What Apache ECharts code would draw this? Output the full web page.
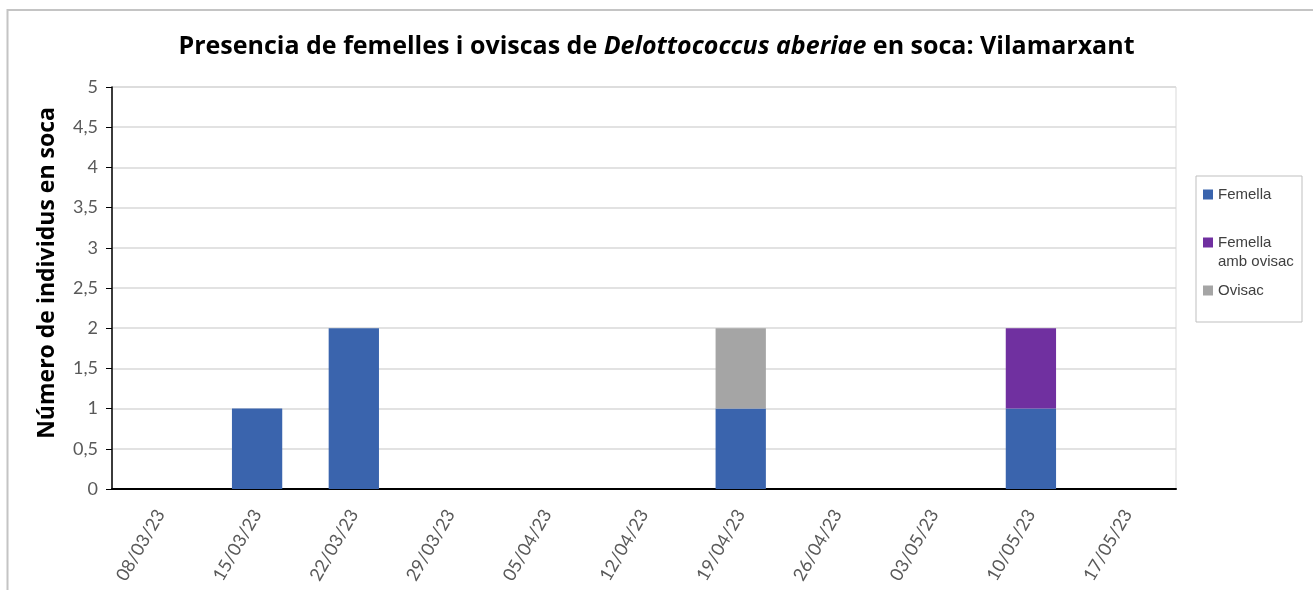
<!DOCTYPE html>
<html>
<head>
<meta charset="utf-8">
<script src="https://cdn.jsdelivr.net/npm/echarts@6/dist/echarts.min.js"></script>
<style>
  html, body { margin: 0; padding: 0; background: #fff; }
  #chart { width: 1313px; height: 590px; }
</style>
</head>
<body>
<div id="chart"></div>
<script>
var categories = ['08/03/23', '15/03/23', '22/03/23', '29/03/23', '05/04/23', '12/04/23',
	'19/04/23', '26/04/23', '03/05/23', '10/05/23', '17/05/23'];
var femella = [0, 1, 2, 0, 0, 0, 1, 0, 0, 1, 0];
var femellaOvisac = [0, 0, 0, 0, 0, 0, 0, 0, 0, 1, 0];
var ovisac = [0, 0, 0, 0, 0, 0, 1, 0, 0, 0, 0];
var seriesNames = ['Femella', 'Femella amb ovisac', 'Ovisac'];
var colors = ['#3a64ad', '#7030a0', '#a5a5a5'];

var legendText = {
	fontFamily: 'Liberation Sans',
	fontSize: 15,
	color: '#404040',
	lineHeight: 19
};

function legendItem(name, top, fmt) {
	return {
		left: 1203, top: top, padding: 0,
		itemWidth: 10, itemHeight: 10, icon: 'rect',
		data: [name], textStyle: legendText,
		formatter: fmt
	};
}

var option = {
	animation: false,
	color: colors,
	title: {
		left: 'center',
		top: 29,
		text: '{n|Presencia de femelles i oviscas de }{i|Delottococcus aberiae}{n| en soca: Vilamarxant}',
		textStyle: {
			rich: {
				n: { fontFamily: 'Open Sans', fontWeight: 'bold', fontSize: 25, color: '#000' },
				i: { fontFamily: 'Open Sans', fontWeight: 'bold', fontStyle: 'italic', fontSize: 25, color: '#000' }
			}
		}
	},
	graphic: [{
		type: 'rect',
		shape: { x: 7.5, y: 10, width: 1330, height: 620 },
		style: { fill: 'none', stroke: '#c4c4c4', lineWidth: 2 },
		silent: true
	}, {
		type: 'rect',
		shape: { x: 1196, y: 176, width: 106, height: 146 },
		style: { fill: 'none', stroke: '#bfbfbf', lineWidth: 1 },
		silent: true
	}],
	legend: [
		legendItem(seriesNames[0], 185, '{name}'),
		legendItem(seriesNames[1], 214, function (name) { return '\n' + name.replace(' amb', '\namb'); }),
		legendItem(seriesNames[2], 281, '{name}')
	],
	grid: {
		left: 112, right: 137, top: 87, bottom: 101,
		show: true, borderColor: '#d9d9d9', borderWidth: 1
	},
	xAxis: {
		type: 'category',
		data: categories,
		axisLine: { lineStyle: { color: '#000', width: 2 } },
		axisTick: { show: false },
		axisLabel: {
			rotate: 60,
			interval: 0,
			margin: 22,
			fontFamily: 'Lato',
			fontSize: 18,
			color: '#595959'
		}
	},
	yAxis: {
		type: 'value',
		min: 0, max: 5, interval: 0.5,
		name: 'Número de individus en soca',
		nameLocation: 'middle',
		nameGap: 53,
		nameTextStyle: {
			fontFamily: 'Open Sans', fontWeight: 'bold', fontSize: 23, color: '#000',
			padding: [0, 0, 0, 30]
		},
		axisLine: { show: true, lineStyle: { color: '#000', width: 1.5 } },
		axisTick: { show: true, length: 6, lineStyle: { color: '#000', width: 1 } },
		splitLine: { lineStyle: { color: '#d9d9d9', width: 1.5 } },
		axisLabel: {
			margin: 14,
			fontFamily: 'Lato',
			fontSize: 18,
			color: '#595959',
			formatter: function (v) { return String(v).replace('.', ','); }
		}
	},
	series: [{
		name: seriesNames[0], type: 'bar', stack: 'total', barWidth: '52%', data: femella
	}, {
		name: seriesNames[1], type: 'bar', stack: 'total', barWidth: '52%', data: femellaOvisac
	}, {
		name: seriesNames[2], type: 'bar', stack: 'total', barWidth: '52%', data: ovisac
	}]
};

var myChart = echarts.init(document.getElementById('chart'));
myChart.setOption(option);
</script>
</body>
</html>
